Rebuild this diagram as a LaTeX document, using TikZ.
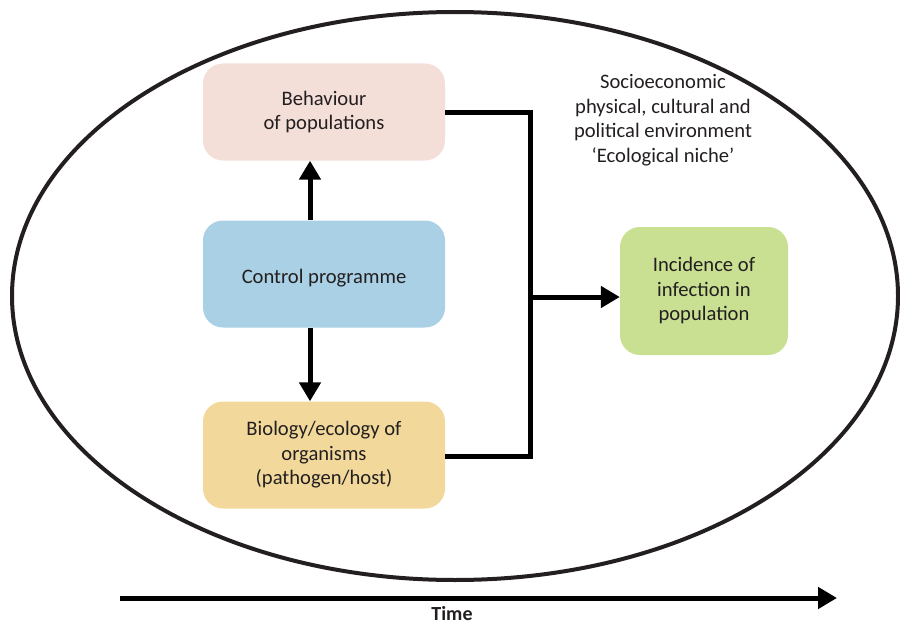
\documentclass[tikz,border=0pt]{standalone}
\usepackage{fontspec}
\setmainfont{Carlito}
\usetikzlibrary{arrows.meta}
\definecolor{inkgray}{HTML}{231F20}
\definecolor{behavfill}{HTML}{F3DED8}
\definecolor{controlfill}{HTML}{A9D0E4}
\definecolor{biofill}{HTML}{F2D99B}
\definecolor{incidfill}{HTML}{C9DF92}
\tikzset{
  boxnode/.style={rounded corners=20pt, align=center, text=inkgray,
    font=\fontsize{20.6}{24.5}\selectfont, inner sep=0pt},
  flowline/.style={line width=5pt, black},
  flowarrow/.style={flowline, -{Triangle[length=19pt,width=21pt]}}
}
\begin{document}
\begin{tikzpicture}[x=1pt,y=-1pt]
\useasboundingbox (0,0) rectangle (900,626);
\pgfmathsetmacro{\boxw}{242}
\pgfmathsetmacro{\boxh}{97}
\draw[line width=4pt, inkgray] (455,296) ellipse [x radius=443, y radius=284];
\node[boxnode, fill=behavfill, minimum width=\boxw, minimum height=\boxh] (behav) at (324,112) {Behaviour\\of populations};
\node[boxnode, fill=controlfill, minimum width=\boxw, minimum height=107, text height=22pt] (control) at (324,274) {Control programme};
\node[boxnode, fill=biofill, minimum width=\boxw, minimum height=107] (bio) at (324,455) {Biology/ecology of\\organisms\\(pathogen/host)};
\node[boxnode, fill=incidfill, minimum width=168, minimum height=128] (incid) at (704,291) {Incidence of\\infection in\\population};
\node[align=center, text=inkgray, font=\fontsize{20.6}{24.5}\selectfont] (niche) at (663,120) {Socioeconomic\\physical, cultural and\\political environment\\‘Ecological niche’};
\coordinate (jtop) at (530,112);
\coordinate (jbot) at (530,456);
\coordinate (jmid) at (530,297);
\draw[flowarrow] (control.north -| 310,0) -- (behav.south -| 310,0);
\draw[flowarrow] (control.south -| 310,0) -- (bio.north -| 310,0);
\draw[flowline] (behav.east |- jtop) -- (jtop) -- (jbot) -- (bio.east |- jbot);
\draw[flowarrow] (jmid) -- (incid.west |- jmid);
\coordinate (tstart) at (120,598);
\coordinate (tend) at (837,598);
\draw[flowarrow] (tstart) -- (tend);
\node[text=inkgray, font=\fontsize{20}{22}\selectfont\bfseries] (time) at (452,614) {Time};
\end{tikzpicture}
\end{document}
